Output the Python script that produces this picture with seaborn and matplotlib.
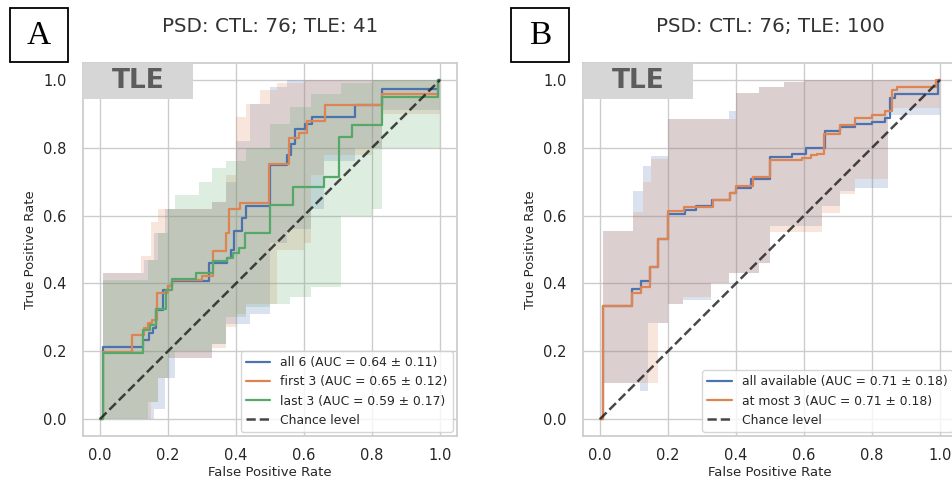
import numpy as np
import pandas as pd
import matplotlib
matplotlib.use("Agg")
import matplotlib.pyplot as plt
import seaborn as sns
from matplotlib.patches import Rectangle

# ---------------- data ----------------
titles = ["PSD: CTL: 76; TLE: 41", "PSD: CTL: 76; TLE: 100"]
letters = ["A", "B"]
tick_vals = [0.0, 0.2, 0.4, 0.6, 0.8, 1.0]
tick_labels = ["0.0", "0.2", "0.4", "0.6", "0.8", "1.0"]

# Panel A - mean ROC curves (step breakpoints)
a_all6_fpr = [0, 0.01, 0.127, 0.145, 0.155, 0.165, 0.185, 0.200, 0.212, 0.320, 0.374, 0.385, 0.395, 0.418,
              0.430, 0.500, 0.550, 0.563, 0.575, 0.604, 0.624, 0.750, 0.830, 0.995, 1.0]
a_all6_tpr = [0, 0.212, 0.233, 0.253, 0.268, 0.322, 0.381, 0.391, 0.408, 0.459, 0.475, 0.500, 0.554, 0.593,
              0.628, 0.748, 0.780, 0.810, 0.854, 0.869, 0.892, 0.925, 0.974, 1.0, 1.0]
a_first3_fpr = [0, 0.01, 0.093, 0.128, 0.140, 0.152, 0.168, 0.200, 0.212, 0.300, 0.332, 0.370, 0.380, 0.413,
                0.497, 0.555, 0.585, 0.609, 0.663, 0.829, 0.995, 1.0]
a_first3_tpr = [0, 0.197, 0.248, 0.268, 0.283, 0.293, 0.373, 0.392, 0.410, 0.423, 0.495, 0.550, 0.618, 0.637,
                0.752, 0.830, 0.845, 0.879, 0.927, 0.958, 1.0, 1.0]
a_last3_fpr = [0, 0.01, 0.125, 0.148, 0.164, 0.193, 0.213, 0.281, 0.333, 0.374, 0.390, 0.410, 0.427, 0.500,
               0.567, 0.660, 0.703, 0.740, 0.829, 0.995, 1.0]
a_last3_tpr = [0, 0.194, 0.263, 0.278, 0.324, 0.381, 0.413, 0.430, 0.465, 0.475, 0.490, 0.504, 0.549, 0.630,
               0.684, 0.714, 0.832, 0.866, 0.950, 1.0, 1.0]

# Panel A - std bands
a_all6_band_x = [0, 0.01, 0.10, 0.13, 0.16, 0.19, 0.22, 0.33, 0.37, 0.40, 0.44, 0.50, 0.55, 0.62, 0.66, 0.75, 0.83, 1.0]
a_all6_band_hi = [0, 0.43, 0.43, 0.47, 0.55, 0.62, 0.62, 0.64, 0.70, 0.82, 0.93, 0.98, 1.0, 1.0, 1.0, 1.0, 1.0, 1.0]
a_all6_band_lo = [0, 0.0, 0.0, 0.0, 0.03, 0.12, 0.18, 0.22, 0.28, 0.28, 0.31, 0.52, 0.56, 0.62, 0.76, 0.80, 0.91, 1.0]
a_first3_band_x = [0, 0.01, 0.09, 0.12, 0.15, 0.17, 0.20, 0.33, 0.37, 0.40, 0.43, 0.47, 0.52, 0.60, 0.62, 0.66, 0.80, 0.83, 1.0]
a_first3_band_hi = [0, 0.43, 0.43, 0.48, 0.58, 0.62, 0.62, 0.64, 0.72, 0.89, 0.93, 0.97, 0.99, 1.0, 1.0, 1.0, 1.0, 1.0, 1.0]
a_first3_band_lo = [0, 0.0, 0.0, 0.0, 0.05, 0.12, 0.18, 0.21, 0.27, 0.31, 0.34, 0.34, 0.50, 0.52, 0.72, 0.78, 0.80, 0.90, 1.0]
a_last3_band_x = [0, 0.01, 0.10, 0.14, 0.17, 0.20, 0.22, 0.29, 0.33, 0.37, 0.43, 0.50, 0.56, 0.62, 0.71, 0.80, 0.83, 0.99, 1.0]
a_last3_band_hi = [0, 0.41, 0.41, 0.47, 0.55, 0.62, 0.66, 0.70, 0.74, 0.76, 0.80, 0.87, 0.92, 0.96, 0.99, 1.0, 1.0, 1.0, 1.0]
a_last3_band_lo = [0, 0.0, 0.0, 0.05, 0.12, 0.18, 0.20, 0.20, 0.22, 0.30, 0.33, 0.34, 0.36, 0.39, 0.60, 0.62, 0.80, 0.80, 1.0]

# Panel B - mean ROC curves
b_all_fpr = [0, 0.01, 0.095, 0.122, 0.146, 0.170, 0.200, 0.250, 0.283, 0.330, 0.381, 0.400, 0.444, 0.500,
             0.565, 0.605, 0.663, 0.707, 0.750, 0.800, 0.839, 0.853, 0.868, 0.993, 1.0]
b_all_tpr = [0, 0.333, 0.384, 0.406, 0.449, 0.530, 0.606, 0.617, 0.627, 0.647, 0.667, 0.680, 0.708, 0.774,
             0.783, 0.798, 0.850, 0.860, 0.870, 0.877, 0.887, 0.946, 0.960, 1.0, 1.0]
b_most3_fpr = [0, 0.01, 0.095, 0.122, 0.146, 0.170, 0.200, 0.248, 0.332, 0.381, 0.400, 0.449, 0.500, 0.595,
               0.620, 0.639, 0.658, 0.707, 0.750, 0.800, 0.839, 0.859, 0.873, 0.988, 1.0]
b_most3_tpr = [0, 0.333, 0.372, 0.390, 0.449, 0.530, 0.615, 0.625, 0.647, 0.667, 0.686, 0.713, 0.764, 0.770,
               0.778, 0.783, 0.840, 0.867, 0.887, 0.897, 0.907, 0.970, 0.980, 1.0, 1.0]

# Panel B - std bands
b_all_band_x = [0, 0.01, 0.098, 0.117, 0.127, 0.141, 0.151, 0.171, 0.200, 0.244, 0.327, 0.380, 0.400, 0.468,
                0.500, 0.540, 0.600, 0.653, 0.706, 0.750, 0.848, 0.990, 1.0]
b_all_band_hi = [0, 0.554, 0.672, 0.672, 0.746, 0.746, 0.777, 0.777, 0.886, 0.886, 0.886, 0.908, 0.963, 0.980,
                 0.980, 0.995, 1.0, 1.0, 1.0, 1.0, 1.0, 1.0, 1.0]
b_all_band_lo = [0, 0.106, 0.106, 0.082, 0.082, 0.283, 0.283, 0.283, 0.338, 0.352, 0.400, 0.430, 0.430, 0.460,
                 0.570, 0.570, 0.570, 0.628, 0.673, 0.680, 0.897, 0.897, 1.0]
b_most3_band_x = [0, 0.01, 0.098, 0.127, 0.151, 0.171, 0.200, 0.244, 0.327, 0.380, 0.400, 0.468, 0.500, 0.540,
                  0.600, 0.653, 0.706, 0.750, 0.848, 0.990, 1.0]
b_most3_band_hi = [0, 0.554, 0.610, 0.700, 0.766, 0.766, 0.886, 0.886, 0.886, 0.886, 0.963, 0.980, 0.980, 0.995,
                   1.0, 1.0, 1.0, 1.0, 1.0, 1.0, 1.0]
b_most3_band_lo = [0, 0.106, 0.106, 0.106, 0.106, 0.283, 0.338, 0.360, 0.400, 0.430, 0.430, 0.460, 0.553, 0.553,
                   0.553, 0.607, 0.665, 0.707, 0.917, 0.917, 1.0]

a_labels = ["all 6 (AUC = 0.64 \u00b1 0.11)", "first 3 (AUC = 0.65 \u00b1 0.12)", "last 3 (AUC = 0.59 \u00b1 0.17)"]
b_labels = ["all available (AUC = 0.71 \u00b1 0.18)", "at most 3 (AUC = 0.71 \u00b1 0.18)"]

# ---------------- style ----------------
sns.set_theme(style="whitegrid")
plt.rcParams["font.family"] = ["DejaVu Sans"]
plt.rcParams["xtick.major.pad"] = 3
plt.rcParams["ytick.major.pad"] = 6

pal = sns.color_palette("deep")
BLUE, ORANGE, GREEN = pal[0], pal[1], pal[2]

fig = plt.figure(figsize=(9.52, 4.82), dpi=100)
fig.patch.set_facecolor("white")
W, H = 952.0, 482.0
axA = fig.add_axes([83 / W, 1 - 436 / H, 374 / W, 373 / H])
axB = fig.add_axes([583 / W, 1 - 436 / H, 374 / W, 373 / H])

panelA = [
    (a_all6_fpr, a_all6_tpr, a_all6_band_x, a_all6_band_lo, a_all6_band_hi, BLUE, a_labels[0]),
    (a_first3_fpr, a_first3_tpr, a_first3_band_x, a_first3_band_lo, a_first3_band_hi, ORANGE, a_labels[1]),
    (a_last3_fpr, a_last3_tpr, a_last3_band_x, a_last3_band_lo, a_last3_band_hi, GREEN, a_labels[2]),
]
panelB = [
    (b_all_fpr, b_all_tpr, b_all_band_x, b_all_band_lo, b_all_band_hi, BLUE, b_labels[0]),
    (b_most3_fpr, b_most3_tpr, b_most3_band_x, b_most3_band_lo, b_most3_band_hi, ORANGE, b_labels[1]),
]


def draw_panel(ax, curves, title):
    for (fx, fy, bx, blo, bhi, color, label) in curves:
        ax.fill_between(bx, blo, bhi, step="post", color=color, alpha=0.2, lw=0, zorder=1)
    for (fx, fy, bx, blo, bhi, color, label) in curves:
        df = pd.DataFrame({"fpr": fx, "tpr": fy})
        sns.lineplot(data=df, x="fpr", y="tpr", ax=ax, color=color, lw=1.6, label=label,
                     drawstyle="steps-post", estimator=None, sort=False, zorder=3)
    sns.lineplot(x=[0, 1], y=[0, 1], ax=ax, color="k", linestyle="--", lw=1.8, alpha=0.8,
                 label="Chance level", estimator=None, sort=False, zorder=4)
    ax.set_xlim(-0.05, 1.05)
    ax.set_ylim(-0.05, 1.05)
    ax.set_xticks(tick_vals)
    ax.set_xticklabels(tick_labels, fontsize=10.5)
    ax.set_yticks(tick_vals)
    ax.set_yticklabels(tick_labels, fontsize=10.5)
    ax.set_xlabel("False Positive Rate", fontsize=9.5, labelpad=2)
    ax.set_ylabel("True Positive Rate", fontsize=9.5, labelpad=4)
    ax.set_title(title, fontsize=14.3, pad=22, color="0.2")
    leg = ax.legend(loc="lower right", fontsize=8.9, frameon=True, borderaxespad=0.35)
    leg.set_zorder(10)
    # grey "TLE" tag
    ax.add_patch(Rectangle((0, 0.903), 0.294, 0.097, transform=ax.transAxes,
                           facecolor="#d6d6d6", edgecolor="none", zorder=6, clip_on=False))
    ax.text(0.147, 0.951, "TLE", transform=ax.transAxes, ha="center", va="center",
            fontsize=19, fontweight="bold", color="#5c5c5c", zorder=7)


draw_panel(axA, panelA, titles[0])
draw_panel(axB, panelB, titles[1])

# boxed panel letters
for (x0, letter) in [(10, letters[0]), (511, letters[1])]:
    fig.add_artist(Rectangle((x0 / W, 1 - 62 / H), 58 / W, 54 / H, transform=fig.transFigure,
                             facecolor="white", edgecolor="black", lw=1.3))
    fig.text((x0 + 29) / W, 1 - 36 / H, letter, ha="center", va="center",
             fontsize=24, family="Liberation Serif", color="black")

fig.savefig("out.png", dpi=100)
